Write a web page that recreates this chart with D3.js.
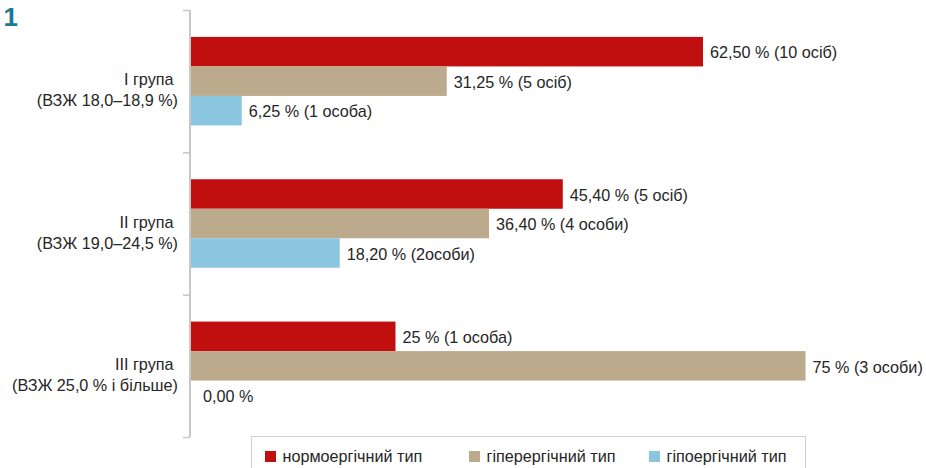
<!DOCTYPE html>
<html><head><meta charset="utf-8">
<script src="https://cdn.jsdelivr.net/npm/d3@7"></script>
<style>body{margin:0;background:#fff}svg{display:block}</style>
</head><body>
<svg id="c" width="926" height="468"></svg>
<script>
const groups = ["I група|(ВЗЖ 18,0–18,9 %)", "II група|(ВЗЖ 19,0–24,5 %)", "III група|(ВЗЖ 25,0 % і більше)"];
const seriesNames = ["нормоергічний тип", "гіперергічний тип", "гіпоергічний тип"];
const seriesColors = ["#C10E0E", "#BBAA8C", "#8AC6DF"];
const values = [
  [62.5, 31.25, 6.25],
  [45.4, 36.4, 18.2],
  [25, 75, 0]
];
const labels = [
  ["62,50 % (10 осіб)", "31,25 % (5 осіб)", "6,25 % (1 особа)"],
  ["45,40 % (5 осіб)", "36,40 % (4 особи)", "18,20 % (2особи)"],
  ["25 % (1 особа)", "75 % (3 особи)", "0,00 %"]
];

const svg = d3.select("#c");
const font = "'Liberation Sans', Arial, sans-serif";
const fs = 16.2;
const txt = "#262626";
const x0 = 190.5;
const x = d3.scaleLinear().domain([0, 100]).range([x0, x0 + 820]);
const y = d3.scaleBand().domain(d3.range(groups.length)).range([10, 437]).paddingInner(0).paddingOuter(0);
const inner = d3.scaleBand().domain(d3.range(seriesNames.length)).range([0, 88.5]);
const off = (y.bandwidth() - 88.5) / 2;

// title number
svg.append("text").attr("x", 3.5).attr("y", 26).text("1")
  .attr("font-family", font).attr("font-weight", "bold").attr("font-size", 26).attr("fill", "#1A7A93");

// bars
const g = svg.append("g");
values.forEach((row, gi) => {
  row.forEach((v, si) => {
    const yy = y(gi) + off + inner(si);
    g.append("rect").attr("x", x(0)).attr("y", yy)
      .attr("width", x(v) - x(0)).attr("height", inner.bandwidth())
      .attr("fill", seriesColors[si]);
    g.append("text").attr("x", x(v) + (v === 0 ? 12.5 : 7)).attr("y", yy + inner.bandwidth() / 2 + 1)
      .attr("dy", "0.36em").text(labels[gi][si])
      .attr("font-family", font).attr("font-size", fs).attr("fill", txt);
  });
});

// axis
const ax = d3.axisLeft(d3.scaleLinear().domain([0, 3]).range([10, 437])).ticks(3).tickSize(7).tickFormat("");
const axg = svg.append("g").attr("transform", `translate(${x0 - 0.5},0)`).call(ax);
axg.selectAll("line").attr("stroke", "#C8C8C8").attr("stroke-width", 1.5);
axg.select(".domain").attr("stroke", "#C8C8C8").attr("stroke-width", 2).attr("d", "M0,10V437");

// category labels
groups.forEach((gname, gi) => {
  const lines = gname.split("|");
  const cy = y(gi) + y.bandwidth() / 2;
  const t = svg.append("text").attr("text-anchor", "end")
    .attr("font-family", font).attr("font-size", fs).attr("fill", txt);
  lines.forEach((ln, li) => {
    t.append("tspan").attr("x", li === 0 ? 173.5 : 178).attr("y", cy - 1.5 + li * 21).attr("dy", "0.36em").text(ln);
  });
});

// legend
svg.append("rect").attr("x", 251.5).attr("y", 436.5).attr("width", 554).attr("height", 40)
  .attr("fill", "#fff").attr("stroke", "#D0D0D0").attr("stroke-width", 1);
const legX = [265, 469, 649];
seriesNames.forEach((n, i) => {
  svg.append("rect").attr("x", legX[i]).attr("y", 451).attr("width", 11).attr("height", 11).attr("fill", seriesColors[i]);
  svg.append("text").attr("x", legX[i] + 17.5).attr("y", 456.5).attr("dy", "0.36em").text(n)
    .attr("font-family", font).attr("font-size", fs).attr("fill", txt);
});
</script>
</body></html>
